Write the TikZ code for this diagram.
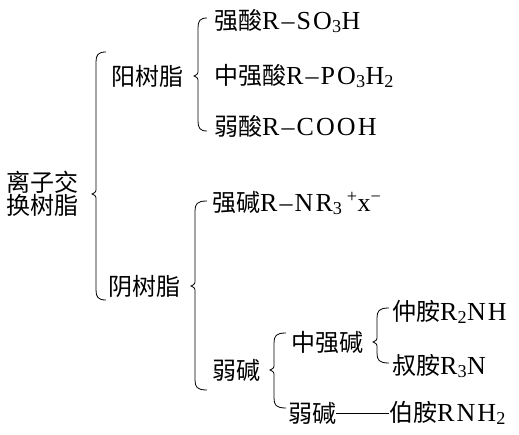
\documentclass[tikz,border=0pt]{standalone}
\usepackage{fontspec}
\setmainfont[LetterSpace=8]{Liberation Serif}
\newfontfamily\cjk{Noto Sans CJK SC}
\usetikzlibrary{calc}
\newcommand\zh[1]{{\cjk\fontsize{24}{24}\selectfont #1}}
\newcommand\mybrace[7]{% #1 x, #2 first child, #3 parent, #4 last child, #5 hook, #6 top ext, #7 bottom ext
  \path (#1,0 |- #2.west) coordinate (bA) (#1,0 |- #3.west) coordinate (bM) (#1,0 |- #4.west) coordinate (bB);
  \draw[brc] ($(bA)+(#5,-#6)$) .. controls ($(bA)+(2,-#6)$) and ($(bA)+(0,-#6+3)$) .. ($(bA)+(0,-#6+10)$)
    -- ($(bM)+(0,-6)$) .. controls ($(bM)+(0,-2)$) .. ($(bM)+(-4,0)$) .. controls ($(bM)+(0,2)$) .. ($(bM)+(0,6)$)
    -- ($(bB)+(0,#7-10)$) .. controls ($(bB)+(0,#7-3)$) and ($(bB)+(2,#7)$) .. ($(bB)+(#5,#7)$);}
\begin{document}
\begin{tikzpicture}[x=1pt,y=-1pt,
  tx/.style={anchor=west, inner sep=0pt, font=\fontsize{26}{26}\selectfont},
  brc/.style={line width=0.8pt, black}]
\fill[white] (0,0) rectangle (519,435);
\useasboundingbox (0,0) rectangle (519,435);
\node[tx, align=left, font=\cjk\fontsize{24}{22}\selectfont] (ion) at (6,194) {离子交\\换树脂};
\node[tx] (yang) at (111,76) {\zh{阳树脂}};
\node[tx] (yin) at (108,286) {\zh{阴树脂}};
\node[tx] (s1) at (214,21) {\zh{强酸}R–SO\textsubscript{3}H};
\node[tx] (s2) at (214,76) {\zh{中强酸}R–PO\textsubscript{3}H\textsubscript{2}};
\node[tx] (s3) at (214,126) {\zh{弱酸}R–COOH};
\node[tx] (b1) at (212,203) {\zh{强碱}R–NR\textsubscript{3}\,\textsuperscript{+}x\textsuperscript{−}};
\node[tx] (rb) at (212,370) {\zh{弱碱}};
\node[tx] (zq) at (291,342) {\zh{中强碱}};
\node[tx] (zh) at (392,312) {\zh{仲胺}R\textsubscript{2}NH};
\node[tx] (sh) at (392,366) {\zh{叔胺}R\textsubscript{3}N};
\node[tx] (rb2) at (288,413) {\zh{弱碱}};
\node[tx] (bo) at (389,413) {\zh{伯胺}RNH\textsubscript{2}};
\draw[brc] (rb2.east) -- (bo.west);
\mybrace{96}{yang}{ion}{yin}{10}{24}{14}
\mybrace{198}{s1}{yang}{s3}{9}{3}{5}
\mybrace{195}{b1}{yin}{rb}{12}{2}{20}
\mybrace{274}{zq}{rb}{rb2}{12}{9}{-5}
\mybrace{377}{zh}{zq}{sh}{12}{4}{-3}
\end{tikzpicture}
\end{document}
